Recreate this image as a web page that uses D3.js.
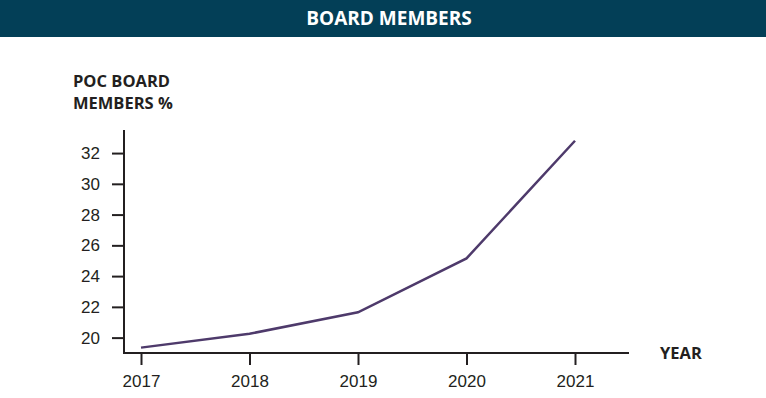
<!DOCTYPE html>
<html lang="en">
<head>
<meta charset="utf-8">
<title>Board Members</title>
<script src="https://d3js.org/d3.v7.min.js"></script>
<style>
  body { margin: 0; background: #fff; font-family: "Open Sans", sans-serif; }
  svg text { fill: #231f20; }
</style>
</head>
<body>
<div id="chart"></div>
<script>
// data
var years = ["2017", "2018", "2019", "2020", "2021"];
var pocShare = [19.35, 20.25, 21.65, 25.15, 32.8];
var yTicks = [20, 22, 24, 26, 28, 30, 32];

var W = 766, H = 398;
var plotLeft = 124, plotRight = 629, plotTop = 130, plotBottom = 353;

var svg = d3.select("#chart").append("svg")
  .attr("width", W)
  .attr("height", H);

// header bar
svg.append("rect")
  .attr("x", 0).attr("y", 0)
  .attr("width", W).attr("height", 37)
  .attr("fill", "#033f57");
svg.append("text")
  .attr("x", 389).attr("y", 25)
  .attr("text-anchor", "middle")
  .style("fill", "#fff")
  .style("font-size", "19px")
  .style("font-weight", "700")
  .text("BOARD MEMBERS");

// scales
var x = d3.scalePoint()
  .domain(years)
  .range([141, 575]);

var y = d3.scaleLinear()
  .domain([19, 33.5])
  .range([plotBottom, plotTop]);

// y axis
var yAxis = svg.append("g")
  .attr("transform", "translate(" + plotLeft + ",0)")
  .call(d3.axisLeft(y).tickValues(yTicks).tickSize(12).tickPadding(12).tickSizeOuter(0));
yAxis.select(".domain").remove();
yAxis.append("line")
  .attr("x1", 0).attr("x2", 0)
  .attr("y1", plotTop).attr("y2", plotBottom + 1)
  .attr("stroke", "#231f20").attr("stroke-width", 2);
yAxis.selectAll(".tick line").attr("stroke", "#231f20").attr("stroke-width", 2);
yAxis.selectAll(".tick text")
  .style("font-size", "17px")
  .style("fill", "#231f20");

// x axis
var xAxis = svg.append("g")
  .attr("transform", "translate(0," + plotBottom + ")")
  .call(d3.axisBottom(x).tickSize(12).tickPadding(10).tickSizeOuter(0));
xAxis.select(".domain").remove();
xAxis.append("line")
  .attr("x1", plotLeft - 1).attr("x2", plotRight)
  .attr("y1", 0).attr("y2", 0)
  .attr("stroke", "#231f20").attr("stroke-width", 2);
xAxis.selectAll(".tick line").attr("stroke", "#231f20").attr("stroke-width", 2);
xAxis.selectAll(".tick text")
  .style("font-size", "17px")
  .style("fill", "#231f20");

// axis titles
svg.append("text")
  .attr("x", 73).attr("y", 87)
  .style("font-size", "16.5px").style("font-weight", "700")
  .text("POC BOARD");
svg.append("text")
  .attr("x", 73).attr("y", 109)
  .style("font-size", "16.5px").style("font-weight", "700")
  .text("MEMBERS %");
svg.append("text")
  .attr("x", 660).attr("y", 359)
  .style("font-size", "16.5px").style("font-weight", "700")
  .text("YEAR");

// the line
var line = d3.line()
  .x(function(d, i) { return x(years[i]); })
  .y(function(d) { return y(d); });

svg.append("path")
  .datum(pocShare)
  .attr("d", line)
  .attr("fill", "none")
  .attr("stroke", "#4e3a6b")
  .attr("stroke-width", 2.5);
</script>
</body>
</html>
